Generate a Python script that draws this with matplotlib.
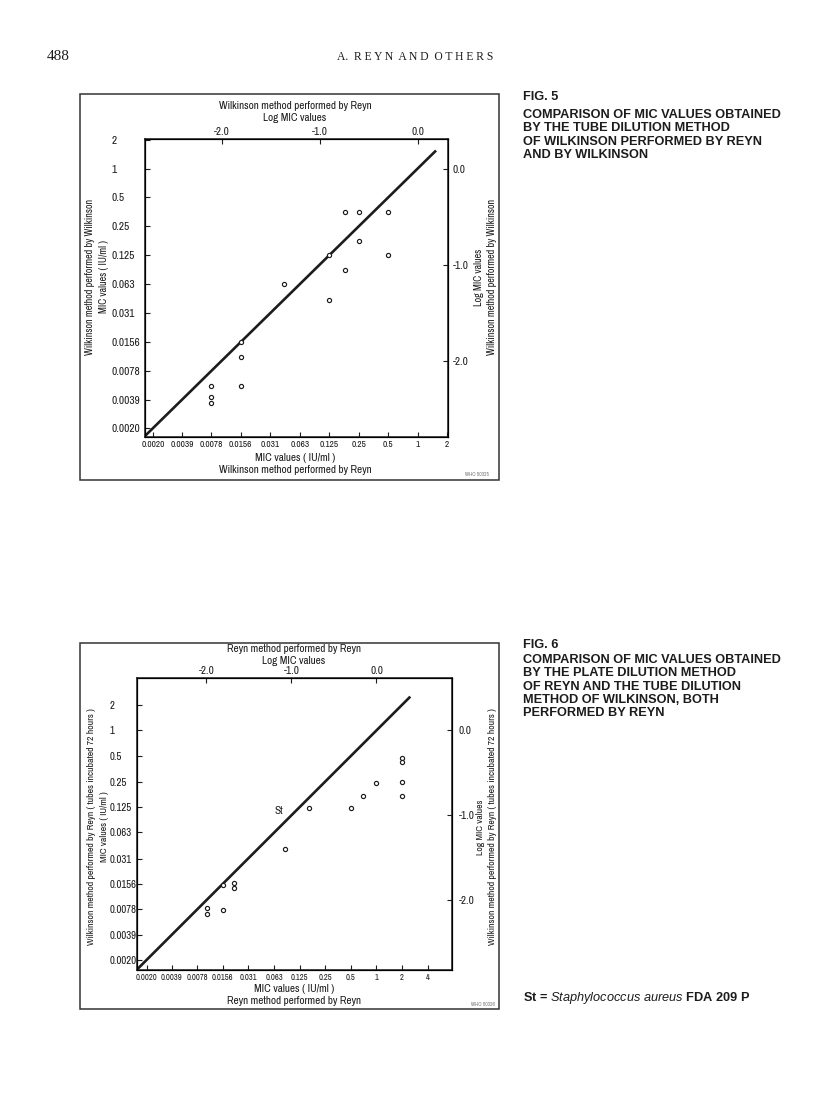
import matplotlib
matplotlib.use('Agg')
import matplotlib.pyplot as plt
from matplotlib.patches import Rectangle
from matplotlib import font_manager as fm

# Page size in pixels
W, H = 816, 1094
DPI = 100
INK = '#1c1c1c'

# pick a narrow face for the chart lettering
_names = {f.name for f in fm.fontManager.ttflist}
if 'Archivo Narrow' in _names:
    NARROW = dict(family=['Archivo Narrow', 'DejaVu Sans'])
else:
    NARROW = dict(family=['DejaVu Sans'], stretch='condensed')

plt.rcParams['mathtext.fontset'] = 'custom'
plt.rcParams['mathtext.it'] = 'Liberation Sans:italic'
plt.rcParams['mathtext.rm'] = 'Liberation Sans:bold'

# Tick values
mic_ticks = [0.0020, 0.0039, 0.0078, 0.0156, 0.031, 0.063, 0.125, 0.25, 0.5, 1, 2]
mic_labels = ['0.0020', '0.0039', '0.0078', '0.0156', '0.031', '0.063',
              '0.125', '0.25', '0.5', '1', '2']
mic_ticks6 = mic_ticks + [4]
mic_labels6 = mic_labels + ['4']
log_ticks = [-2.0, -1.0, 0.0]
log_labels = ['-2.0', '-1.0', '0.0']

# Fig. 5: Wilkinson method, Reyn (x) vs Wilkinson (y), MIC in IU/ml
fig5_x = [0.179, 0.25, 0.5, 0.25, 0.125, 0.5, 0.179, 0.0436, 0.125,
          0.0156, 0.0156, 0.0078, 0.0156, 0.0078, 0.0078]
fig5_y = [0.354, 0.354, 0.356, 0.178, 0.125, 0.125, 0.087, 0.063, 0.0427,
          0.0156, 0.0110, 0.0055, 0.0055, 0.00416, 0.00363]

# Fig. 6: Reyn plate method (x) vs Wilkinson tube method 72 h (y)
fig6_x = [2, 2, 1, 2, 0.69, 2, 0.163, 0.5, 0.085, 0.0156,
          0.0209, 0.0209, 0.0156, 0.0102, 0.0102]
fig6_y = [0.476, 0.42, 0.24, 0.246, 0.168, 0.167, 0.121, 0.121, 0.0405, 0.0152,
          0.0159, 0.0138, 0.0076, 0.0080, 0.0069]
st_label = (0.0703, 0.114)

# Line of equality
fig5_line = [0.00150, 1.54]
fig6_line = [0.00140, 2.5]


def px_rect(l, t, r, b):
    return [l / W, 1 - b / H, (r - l) / W, (b - t) / H]


def draw_panel(fig, rect, xlim, ylim, xt, xl, yt, yl, x, y, line,
               top_title, bottom_title, side_title, lab_pos,
               left_pad, right_pad, bottom_fs, left_fs, side_fs):
    ax = fig.add_axes(px_rect(*rect))
    ax.set_xscale('log', base=2)
    ax.set_yscale('log', base=2)
    ax.set_xlim(*xlim)
    ax.set_ylim(*ylim)
    ax.minorticks_off()

    ax.plot(line, line, color=INK, lw=1.9, solid_capstyle='butt')
    ax.plot(x, y, 'o', ms=3.0, mfc='white', mec=INK, mew=0.85)

    ax.set_xticks(xt)
    ax.set_xticklabels(xl, fontsize=bottom_fs, **NARROW)
    ax.set_yticks(yt)
    ax.set_yticklabels(yl, fontsize=left_fs, ha='left', **NARROW)
    ax.tick_params(axis='x', direction='in', length=3.5, width=0.8, pad=2.5, colors=INK)
    ax.tick_params(axis='y', direction='in', length=3.5, width=0.8, pad=left_pad, colors=INK)
    for s in ax.spines.values():
        s.set_linewidth(1.1)
        s.set_color(INK)

    # log10 axes on top and right
    top = ax.twiny()
    top.set_xscale('log', base=2)
    top.set_xlim(*xlim)
    top.minorticks_off()
    top.set_xticks([10 ** v for v in log_ticks])
    top.set_xticklabels(log_labels, fontsize=8.0, **NARROW)
    top.tick_params(axis='x', direction='in', length=3.5, width=0.8, pad=1.5, colors=INK)

    right = ax.twinx()
    right.set_yscale('log', base=2)
    right.set_ylim(*ylim)
    right.minorticks_off()
    right.set_yticks([10 ** v for v in log_ticks])
    right.set_yticklabels(log_labels, fontsize=8.0, **NARROW)
    right.tick_params(axis='y', direction='in', length=3.5, width=0.8, pad=right_pad, colors=INK)

    kw = dict(fontsize=8.0, color=INK, linespacing=1.25, **NARROW)
    ax.set_xlabel('MIC values ( IU/ml )\n' + bottom_title, **kw)
    ax.xaxis.set_label_coords(lab_pos[0], lab_pos[1])
    ax.xaxis.label.set_va('center')
    top.set_xlabel(top_title + '\nLog MIC values', **kw)
    top.xaxis.set_label_coords(lab_pos[0], lab_pos[2])
    top.xaxis.label.set_va('center')

    kw_side = dict(kw, fontsize=side_fs, linespacing=1.45)
    ax.set_ylabel(side_title + '\nMIC values ( IU/ml )', **kw_side)
    ax.yaxis.set_label_coords(lab_pos[3], lab_pos[5])
    ax.yaxis.label.set_va('center')
    right.set_ylabel('Log MIC values\n' + side_title, rotation=90, **kw_side)
    right.yaxis.set_label_coords(lab_pos[4], lab_pos[5])
    right.yaxis.label.set_va('center')
    return ax


fig = plt.figure(figsize=(W / DPI, H / DPI), dpi=DPI)
fig.patch.set_facecolor('white')

# outer frames
for l, t, r, b in [(80, 94, 499, 480), (80, 643, 499, 1009)]:
    fig.add_artist(Rectangle((l / W, 1 - b / H), (r - l) / W, (b - t) / H,
                             transform=fig.transFigure, fill=False,
                             lw=1.1, ec='#333333'))

# Fig. 5
draw_panel(fig, (145, 139, 448, 437), (0.00164, 2.04), (0.00160, 2.03),
           mic_ticks, mic_labels, mic_ticks, mic_labels,
           fig5_x, fig5_y, fig5_line,
           'Wilkinson method performed by Reyn', 'Wilkinson method performed by Reyn',
           'Wilkinson method performed by Wilkinson',
           (0.495, -0.089, 1.091, -0.158, 1.124, 0.537),
           left_pad=23.8, right_pad=3.5, bottom_fs=6.7, left_fs=8.2, side_fs=7.3)
fig.text(477 / W, 1 - 475 / H, 'WHO 50325', fontsize=3.8, color='#777777',
         ha='center', va='center', **NARROW)

# Fig. 6
ax6 = draw_panel(fig, (137, 678, 452, 970), (0.00153, 7.73), (0.00151, 4.14),
                 mic_ticks6, mic_labels6, mic_ticks, mic_labels,
                 fig6_x, fig6_y, fig6_line,
                 'Reyn method performed by Reyn', 'Reyn method performed by Reyn',
                 'Wilkinson method performed by Reyn ( tubes incubated 72 hours )',
                 (0.498, -0.084, 1.079, -0.124, 1.110, 0.49),
                 left_pad=20.0, right_pad=5.0, bottom_fs=6.1, left_fs=7.8, side_fs=7.0)
ax6.text(st_label[0], st_label[1], 'St', fontsize=8.0,
         color=INK, ha='center', va='center', **NARROW)
fig.text(483 / W, 1 - 1004 / H, 'WHO 50326', fontsize=3.8, color='#777777',
         ha='center', va='center', **NARROW)

# page header
serif = ['Liberation Serif', 'DejaVu Serif']
fig.text(47 / W, 1 - 57 / H, '488', family=serif,
         fontsize=11, color=INK, va='center', ha='left')
fig.text(415 / W, 1 - 57 / H, 'A.  R E Y N  A N D  O T H E R S', family=serif,
         fontsize=8.4, color=INK, va='center', ha='center')

# captions
cap = dict(family=['Liberation Sans', 'DejaVu Sans'], weight='bold', fontsize=9.2,
           color=INK, ha='left', va='center')
fig.text(523 / W, 1 - 97 / H, 'FIG. 5', **cap)
for i, line in enumerate(['COMPARISON OF MIC VALUES OBTAINED',
                          'BY THE TUBE DILUTION METHOD',
                          'OF WILKINSON PERFORMED BY REYN',
                          'AND BY WILKINSON']):
    fig.text(523 / W, 1 - (115 + 13.4 * i) / H, line, **cap)

fig.text(523 / W, 1 - 645 / H, 'FIG. 6', **cap)
for i, line in enumerate(['COMPARISON OF MIC VALUES OBTAINED',
                          'BY THE PLATE DILUTION METHOD',
                          'OF REYN AND THE TUBE DILUTION',
                          'METHOD OF WILKINSON, BOTH',
                          'PERFORMED BY REYN']):
    fig.text(523 / W, 1 - (660 + 13.3 * i) / H, line, **cap)

fig.text(523 / W, 1 - 998 / H,
         r'St = $\mathit{Staphylococcus\ aureus}$ FDA 209 P', **cap)

fig.savefig('out.png', dpi=DPI, facecolor='white')
